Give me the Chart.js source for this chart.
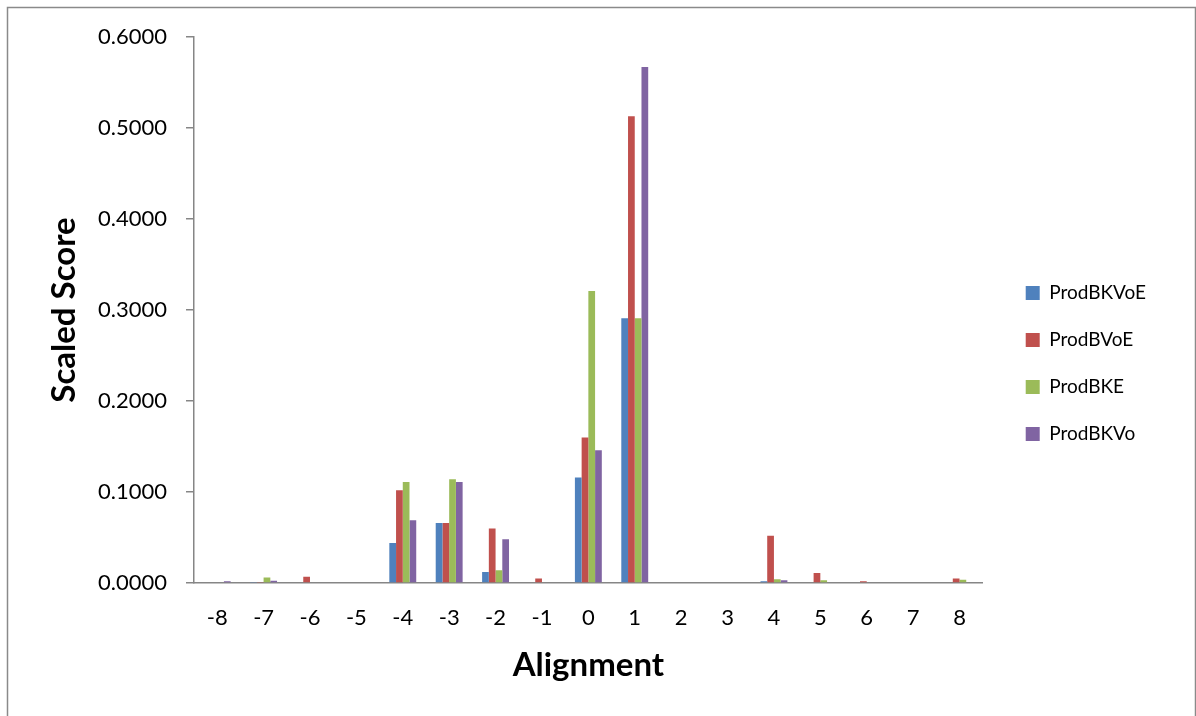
<!DOCTYPE html>
<html>
<head>
<meta charset="utf-8">
<script src="https://cdn.jsdelivr.net/npm/chart.js@4.4.1/dist/chart.umd.min.js"></script>
<style>
  html, body { margin: 0; padding: 0; background: #ffffff; }
  #chart { display: block; }
</style>
</head>
<body>
<canvas id="chart" width="1196" height="716"></canvas>
<script>
// alignment offsets on the x axis
const alignments = ['-8', '-7', '-6', '-5', '-4', '-3', '-2', '-1', '0', '1', '2', '3', '4', '5', '6', '7', '8'];

// scaled scores per series
const prodBKVoE = [0, 0.0005, 0, 0, 0.044, 0.066, 0.012, 0, 0.116, 0.291, 0, 0, 0.002, 0, 0, 0, 0];
const prodBVoE  = [0, 0.001, 0.007, 0, 0.102, 0.066, 0.060, 0.005, 0.160, 0.513, 0, 0, 0.052, 0.011, 0.002, 0, 0.005];
const prodBKE   = [0, 0.006, 0, 0, 0.111, 0.114, 0.014, 0, 0.321, 0.291, 0, 0, 0.004, 0.003, 0, 0, 0.0035];
const prodBKVo  = [0.002, 0.0026, 0, 0, 0.069, 0.111, 0.048, 0, 0.146, 0.567, 0, 0, 0.003, 0, 0, 0, 0];

const seriesNames = ['ProdBKVoE', 'ProdBVoE', 'ProdBKE', 'ProdBKVo'];
const seriesColors = ['#4F81BD', '#C0504D', '#9BBB59', '#8064A2'];

const FONT = 'Lato, "Open Sans", sans-serif';
const AXIS_GREY = '#868686';

// Outer frame round the whole chart, as in the spreadsheet export
const framePlugin = {
    id: 'frame',
    beforeDraw(chart) {
        const ctx = chart.ctx;
        ctx.save();
        ctx.fillStyle = '#ffffff';
        ctx.fillRect(0, 0, chart.width, chart.height);
        ctx.strokeStyle = '#8a8a8a';
        ctx.lineWidth = 1.5;
        ctx.strokeRect(7.5, 7.5, 1188, 800);
        ctx.restore();
    }
};

const datasets = [prodBKVoE, prodBVoE, prodBKE, prodBKVo].map((values, i) => ({
    label: seriesNames[i],
    data: values,
    backgroundColor: seriesColors[i],
    borderWidth: 0,
    categoryPercentage: 0.58,
    barPercentage: 1.0
}));

new Chart(document.getElementById('chart'), {
    type: 'bar',
    data: { labels: alignments, datasets: datasets },
    plugins: [framePlugin],
    options: {
        responsive: false,
        animation: false,
        // bottom padding lifts the legend block to where it sits in the reference
        layout: { padding: { top: 37, right: 40, bottom: 26, left: 0 } },
        scales: {
            x: {
                grid: { drawOnChartArea: false, drawTicks: false },
                border: { color: AXIS_GREY, width: 1.5 },
                ticks: { color: '#000', padding: 22, font: { family: FONT, size: 22 } },
                title: {
                    display: true,
                    text: 'Alignment',
                    color: '#000',
                    font: { family: FONT, size: 33, weight: 'bold' },
                    padding: { top: 0, bottom: 5 }
                },
                afterFit: (scale) => { scale.height = 107; }
            },
            y: {
                min: 0,
                max: 0.6,
                grid: { drawOnChartArea: false, drawTicks: true, tickLength: 8, color: AXIS_GREY, lineWidth: 1.5 },
                border: { color: AXIS_GREY, width: 1.5 },
                ticks: {
                    stepSize: 0.1,
                    padding: 19,
                    color: '#000',
                    font: { family: FONT, size: 22 },
                    callback: (v) => Number(v).toFixed(4)
                },
                title: {
                    display: true,
                    text: 'Scaled Score',
                    color: '#000',
                    font: { family: FONT, size: 33, weight: 'bold' },
                    padding: { top: 45, bottom: 0 }
                },
                afterFit: (scale) => { scale.width = 194; }
            },
            // empty spacer between the plot and the legend
            gap: {
                position: 'right',
                display: true,
                grid: { display: false },
                border: { display: false },
                ticks: { display: false },
                afterFit: (scale) => { scale.width = 15; }
            }
        },
        plugins: {
            legend: {
                position: 'right',
                align: 'center',
                labels: {
                    boxWidth: 14,
                    boxHeight: 14,
                    padding: 28,
                    color: '#000',
                    font: { family: FONT, size: 19 }
                }
            },
            tooltip: { enabled: false }
        }
    }
});
</script>
</body>
</html>
